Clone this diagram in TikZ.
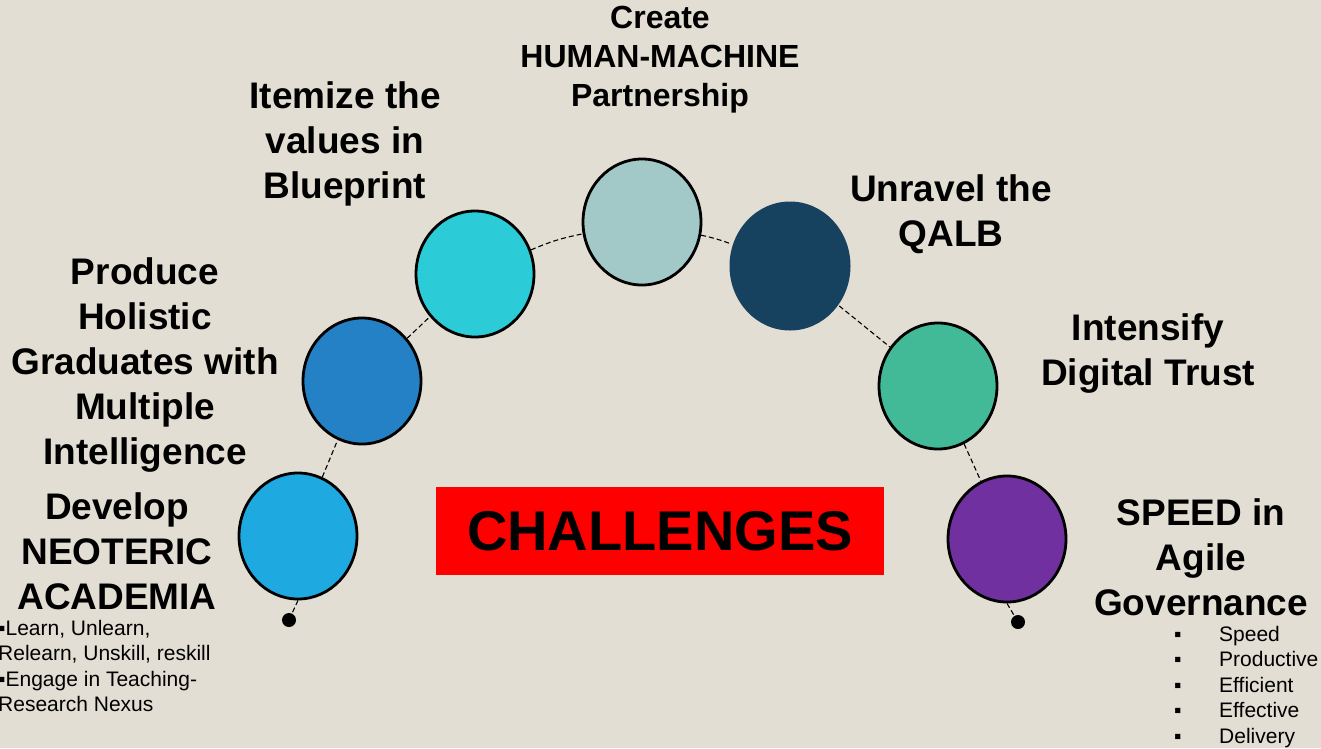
\documentclass[tikz,border=0pt]{standalone}
\usepackage{fontspec}
\setmainfont{Liberation Sans}
\usetikzlibrary{shapes.geometric,positioning}
\definecolor{bgbeige}{HTML}{E3DED3}
\definecolor{skyblue}{HTML}{1EA9E1}
\definecolor{midblue}{HTML}{2481C5}
\definecolor{cyanball}{HTML}{2BCCD8}
\definecolor{paleteal}{HTML}{A2C8C7}
\definecolor{navyball}{HTML}{17425F}
\definecolor{greenball}{HTML}{42BA98}
\definecolor{purpleball}{HTML}{7030A0}
\begin{document}
\begin{tikzpicture}[x=1pt,y=-1pt,
  ball/.style={draw=black, line width=2.8pt, ellipse, minimum width=118pt, minimum height=126pt, inner sep=0pt},
  title/.style={font=\bfseries\fontsize{37}{45}\selectfont, align=center, inner sep=0pt},
  small/.style={font=\fontsize{21}{25.5}\selectfont, align=left, inner sep=0pt},
  link/.style={line width=1.1pt, dash pattern=on 5pt off 3pt},
  enddot/.style={circle, fill=black, minimum size=14pt, inner sep=0pt}]
\fill[bgbeige] (0,0) rectangle (1321,748);
\useasboundingbox (0,0) rectangle (1321,748);

\node (neoteric) [ball, fill=skyblue] at (298,536) {};
\node (holistic) [ball, fill=midblue] at (362,381) {};
\node (blueprint)[ball, fill=cyanball] at (475,274) {};
\node (partner)  [ball, fill=paleteal] at (642,222) {};
\node (qalb)     [ball, fill=navyball, draw=none, minimum width=121pt, minimum height=129pt] at (790,266) {};
\node (trust)    [ball, fill=greenball] at (938,386) {};
\node (speed)    [ball, fill=purpleball] at (1007,539) {};

\node (dotleft)  [enddot] at (289,620) {};
\node (dotright) [enddot] at (1018,622) {};

\draw [link](neoteric)--(holistic);
\draw [link](holistic)--(blueprint);
\draw [link](blueprint) to[bend left=6] (partner);
\draw [link](partner) to[bend left=4] (qalb);
\draw [link](qalb)--(trust);
\draw [link](trust)--(speed);
\draw [link](neoteric.south)--(dotleft);
\draw [link](speed.south)--(dotright);

\node (challenges)[fill=red, minimum width=448pt, minimum height=88pt, inner sep=0pt, font=\bfseries\fontsize{56}{60}\selectfont] at (660,531) {CHALLENGES};

\node (createlbl) [title, font=\bfseries\fontsize{32}{39}\selectfont] at (660,60) {Create\\HUMAN-MACHINE\\Partnership};
\node (itemizelbl) [title] at (345,144) {Itemize the\\values in\\Blueprint};
\node (unravellbl) [title] at (951,214) {Unravel the\\QALB};
\node (producelbl) [title] at (145,365) {Produce\\Holistic\\Graduates with\\Multiple\\Intelligence};
\node (intensifylbl) [title] at (1148,354) {Intensify\\Digital Trust};
\node (developlbl) [title] at (117,551) {Develop\\NEOTERIC\\ACADEMIA};
\node (speedlbl) [title] at (1201,557) {SPEED in\\Agile\\Governance};

\node (academialist) [small, anchor=north west] at (-2,620) {▪Learn, Unlearn,\\Relearn, Unskill, reskill\\▪Engage in Teaching-\\Research Nexus};
\node (speedlist) [small, anchor=north west] at (1174,626) {\makebox[45pt][l]{▪}Speed\\\makebox[45pt][l]{▪}Productive\\\makebox[45pt][l]{▪}Efficient\\\makebox[45pt][l]{▪}Effective\\\makebox[45pt][l]{▪}Delivery};
\end{tikzpicture}
\end{document}
